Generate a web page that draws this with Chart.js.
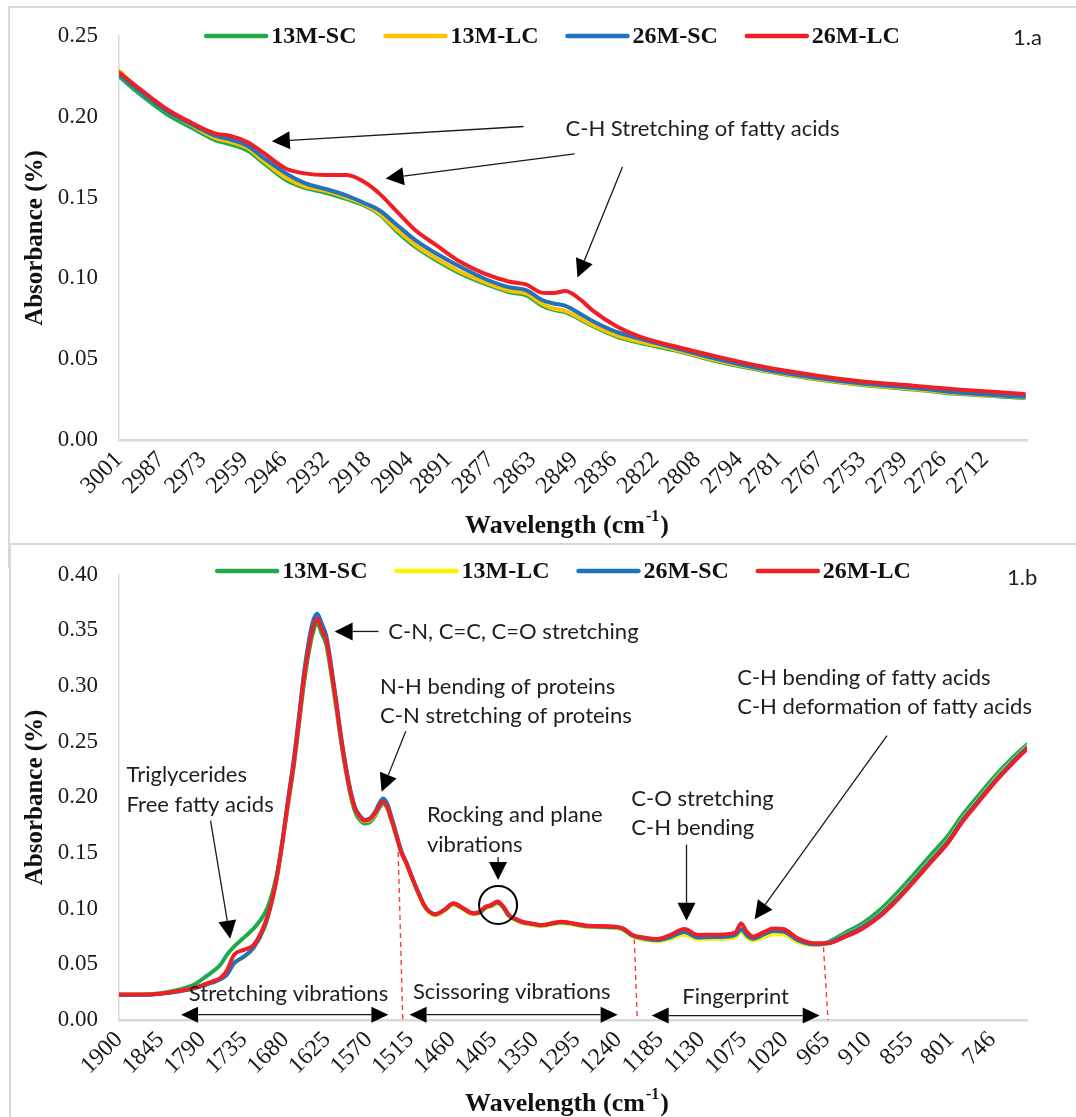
<!DOCTYPE html>
<html>
<head>
<meta charset="utf-8">
<title>FTIR absorbance spectra</title>
<script src="https://cdn.jsdelivr.net/npm/chart.js@4.4.1/dist/chart.umd.min.js"></script>
<style>
  html, body { margin: 0; padding: 0; background: #fff; }
  body { width: 1076px; height: 1117px; position: relative; overflow: hidden; }
  .frame { position: absolute; border-top: 2px solid #d9d9d9; border-left: 2px solid #d9d9d9; }
  #frame-a { left: 8px; top: 6px; width: 1100px; height: 560px; }
  #frame-b { left: 9px; top: 543px; width: 1100px; height: 600px; }
  canvas { position: absolute; left: 0; }
  #chart-a { top: 0; }
  #chart-b { top: 540px; }
</style>
</head>
<body>
<div class="frame" id="frame-a"></div>
<div class="frame" id="frame-b"></div>
<canvas id="chart-a" width="1076" height="538"></canvas>
<canvas id="chart-b" width="1076" height="577"></canvas>
<script>
var SERIES = ['13M-SC', '13M-LC', '26M-SC', '26M-LC'];

// ---- panel 1.a : C-H stretching region ----
var topWavenumber = [3001, 2994, 2985, 2977, 2969, 2964, 2958, 2953, 2945, 2939, 2932, 2925, 2919, 2914, 2908, 2902, 2895, 2887, 2879, 2871, 2865, 2860, 2856, 2852, 2847, 2843, 2835, 2827, 2816, 2802, 2786, 2769, 2753, 2736, 2720, 2699];
var top13MSC = [0.2250, 0.2140, 0.2016, 0.1934, 0.1856, 0.1830, 0.1790, 0.1718, 0.1605, 0.1560, 0.1530, 0.1490, 0.1450, 0.1395, 0.1286, 0.1193, 0.1111, 0.1029, 0.0967, 0.0916, 0.0895, 0.0833, 0.0805, 0.0790, 0.0745, 0.0705, 0.0640, 0.0600, 0.0556, 0.0488, 0.0428, 0.0377, 0.0340, 0.0313, 0.0284, 0.0261];
var top13MLC = [0.2285, 0.2165, 0.2040, 0.1950, 0.1870, 0.1845, 0.1805, 0.1730, 0.1620, 0.1570, 0.1542, 0.1500, 0.1457, 0.1400, 0.1298, 0.1205, 0.1122, 0.1040, 0.0977, 0.0925, 0.0905, 0.0845, 0.0812, 0.0798, 0.0752, 0.0712, 0.0647, 0.0607, 0.0562, 0.0494, 0.0432, 0.0381, 0.0344, 0.0316, 0.0288, 0.0264];
var top26MSC = [0.2265, 0.2160, 0.2037, 0.1955, 0.1883, 0.1860, 0.1820, 0.1749, 0.1646, 0.1590, 0.1553, 0.1512, 0.1465, 0.1420, 0.1327, 0.1235, 0.1152, 0.1070, 0.0998, 0.0946, 0.0926, 0.0868, 0.0845, 0.0830, 0.0780, 0.0737, 0.0669, 0.0626, 0.0572, 0.0504, 0.0438, 0.0387, 0.0350, 0.0323, 0.0292, 0.0267];
var top26MLC = [0.2274, 0.2171, 0.2047, 0.1965, 0.1897, 0.1883, 0.1842, 0.1780, 0.1677, 0.1650, 0.1640, 0.1640, 0.1595, 0.1523, 0.1409, 0.1296, 0.1204, 0.1101, 0.1029, 0.0981, 0.0961, 0.0912, 0.0909, 0.0922, 0.0868, 0.0802, 0.0704, 0.0638, 0.0582, 0.0519, 0.0453, 0.0401, 0.0362, 0.0336, 0.0311, 0.0285];
var topTicks = [3001, 2987, 2973, 2959, 2946, 2932, 2918, 2904, 2891, 2877, 2863, 2849, 2836, 2822, 2808, 2794, 2781, 2767, 2753, 2739, 2726, 2712];

// ---- panel 1.b : fingerprint region ----
var botWavenumber = [1900, 1855, 1820, 1800, 1788, 1777, 1766, 1757, 1748, 1735, 1722, 1708, 1700, 1692, 1684, 1676, 1669, 1662, 1656, 1650, 1644, 1638, 1632, 1626, 1620, 1613, 1607, 1600, 1594, 1588, 1581, 1575, 1568, 1562, 1556, 1551, 1545, 1540, 1534, 1527, 1520, 1514, 1505, 1497, 1490, 1482, 1470, 1458, 1445, 1432, 1424, 1415, 1408, 1400, 1392, 1385, 1376, 1368, 1350, 1343, 1316, 1280, 1243, 1234, 1221, 1205, 1189, 1171, 1153, 1135, 1117, 1099, 1085, 1078, 1070, 1062, 1048, 1035, 1022, 1003, 981, 963, 940, 917, 895, 872, 850, 827, 804, 786, 765, 740, 720, 700];
var bot13MSC = [0.0228, 0.0234, 0.0275, 0.0320, 0.0377, 0.0430, 0.0496, 0.0590, 0.0660, 0.0740, 0.0823, 0.0950, 0.1080, 0.1290, 0.1600, 0.1960, 0.2280, 0.2660, 0.3000, 0.3270, 0.3470, 0.3565, 0.3470, 0.3370, 0.3130, 0.2810, 0.2520, 0.2230, 0.2020, 0.1870, 0.1790, 0.1765, 0.1780, 0.1830, 0.1905, 0.1945, 0.1895, 0.1795, 0.1665, 0.1505, 0.1400, 0.1296, 0.1148, 0.1030, 0.0970, 0.0945, 0.0985, 0.1042, 0.0998, 0.0955, 0.0962, 0.1010, 0.1022, 0.1050, 0.1008, 0.0938, 0.0902, 0.0878, 0.0856, 0.0846, 0.0874, 0.0838, 0.0828, 0.0812, 0.0752, 0.0725, 0.0712, 0.0735, 0.0770, 0.0730, 0.0732, 0.0735, 0.0750, 0.0800, 0.0745, 0.0718, 0.0748, 0.0775, 0.0772, 0.0705, 0.0675, 0.0700, 0.0785, 0.0870, 0.0985, 0.1140, 0.1305, 0.1485, 0.1660, 0.1835, 0.2010, 0.2210, 0.2350, 0.2475];
var bot13MLC = [0.0226, 0.0231, 0.0260, 0.0287, 0.0312, 0.0338, 0.0368, 0.0415, 0.0505, 0.0565, 0.0645, 0.0825, 0.1005, 0.1255, 0.1600, 0.1995, 0.2325, 0.2720, 0.3070, 0.3345, 0.3550, 0.3625, 0.3535, 0.3430, 0.3185, 0.2855, 0.2560, 0.2260, 0.2050, 0.1900, 0.1815, 0.1785, 0.1800, 0.1845, 0.1925, 0.1965, 0.1915, 0.1810, 0.1675, 0.1510, 0.1402, 0.1297, 0.1148, 0.1028, 0.0966, 0.0940, 0.0980, 0.1036, 0.0992, 0.0950, 0.0958, 0.1005, 0.1018, 0.1046, 0.1004, 0.0935, 0.0898, 0.0874, 0.0852, 0.0843, 0.0870, 0.0835, 0.0826, 0.0808, 0.0748, 0.0722, 0.0708, 0.0732, 0.0768, 0.0726, 0.0728, 0.0732, 0.0745, 0.0795, 0.0742, 0.0715, 0.0745, 0.0770, 0.0768, 0.0702, 0.0674, 0.0690, 0.0765, 0.0842, 0.0948, 0.1098, 0.1262, 0.1440, 0.1618, 0.1798, 0.1972, 0.2178, 0.2322, 0.2458];
var bot26MSC = [0.0225, 0.0230, 0.0258, 0.0285, 0.0310, 0.0335, 0.0365, 0.0410, 0.0510, 0.0570, 0.0650, 0.0830, 0.1010, 0.1260, 0.1610, 0.2010, 0.2340, 0.2740, 0.3090, 0.3370, 0.3575, 0.3650, 0.3560, 0.3450, 0.3200, 0.2870, 0.2570, 0.2270, 0.2060, 0.1910, 0.1830, 0.1800, 0.1815, 0.1865, 0.1945, 0.1990, 0.1935, 0.1825, 0.1685, 0.1520, 0.1412, 0.1306, 0.1156, 0.1036, 0.0974, 0.0948, 0.0988, 0.1045, 0.1000, 0.0957, 0.0965, 0.1014, 0.1028, 0.1056, 0.1012, 0.0940, 0.0905, 0.0880, 0.0858, 0.0849, 0.0878, 0.0842, 0.0833, 0.0817, 0.0757, 0.0730, 0.0718, 0.0745, 0.0790, 0.0742, 0.0745, 0.0748, 0.0765, 0.0815, 0.0760, 0.0730, 0.0770, 0.0800, 0.0795, 0.0718, 0.0680, 0.0692, 0.0762, 0.0838, 0.0942, 0.1090, 0.1255, 0.1433, 0.1610, 0.1790, 0.1965, 0.2170, 0.2315, 0.2450];
var bot26MLC = [0.0228, 0.0232, 0.0262, 0.0290, 0.0318, 0.0345, 0.0377, 0.0450, 0.0585, 0.0630, 0.0674, 0.0853, 0.1020, 0.1260, 0.1600, 0.1990, 0.2310, 0.2700, 0.3050, 0.3320, 0.3520, 0.3605, 0.3505, 0.3411, 0.3170, 0.2846, 0.2550, 0.2252, 0.2044, 0.1895, 0.1820, 0.1791, 0.1806, 0.1851, 0.1925, 0.1961, 0.1910, 0.1806, 0.1670, 0.1509, 0.1405, 0.1301, 0.1153, 0.1034, 0.0974, 0.0950, 0.0990, 0.1049, 0.1004, 0.0960, 0.0969, 0.1019, 0.1034, 0.1064, 0.1019, 0.0945, 0.0909, 0.0885, 0.0862, 0.0853, 0.0882, 0.0847, 0.0838, 0.0823, 0.0764, 0.0740, 0.0728, 0.0764, 0.0817, 0.0764, 0.0766, 0.0769, 0.0790, 0.0868, 0.0790, 0.0749, 0.0790, 0.0823, 0.0817, 0.0734, 0.0689, 0.0689, 0.0749, 0.0823, 0.0927, 0.1075, 0.1239, 0.1417, 0.1595, 0.1774, 0.1950, 0.2155, 0.2300, 0.2436];
var botTicks = [1900, 1845, 1790, 1735, 1680, 1625, 1570, 1515, 1460, 1405, 1350, 1295, 1240, 1185, 1130, 1075, 1020, 965, 910, 855, 801, 746];

var AREA_LEFT = 119;
var AREA_RIGHT = 1027;
var SERIF = '"Liberation Serif", "Times New Roman", serif';
var NOTE_FAMILY = 'Lato, "Open Sans", sans-serif';
var NOTE_GAP = 29.5;

// annotation layout, in (wavenumber, absorbance) coordinates
var topDecor = {
    legend: { cx: 553, y: 36 },
    tag: { text: '1.a', dx: -14, y: 38 },
    xTitle: { cx: 566, y: 526 },
    notes: [
        { at: [2852, 0.1925], lines: ['C-H Stretching of fatty acids'], align: 'left' }
    ],
    arrows: [
        [[2866, 0.1940], [2950, 0.1848]],
        [[2849, 0.1770], [2912, 0.1618]],
        [[2833, 0.1690], [2848, 0.1006]]
    ],
    spans: [], guides: [], circles: []
};

var botDecor = {
    legend: { cx: 564, y: 31 },
    tag: { text: '1.b', dx: -20, y: 38 },
    xTitle: { cx: 566, y: 564 },
    notes: [
        { at: [1544, 0.3485], lines: ['C-N, C=C, C=O stretching'], align: 'left' },
        { at: [1555, 0.2995], lines: ['N-H bending of proteins', 'C-N stretching of proteins'], align: 'left' },
        { at: [1890, 0.2201], lines: ['Triglycerides', 'Free fatty acids'], align: 'left' },
        { at: [1493, 0.1842], lines: ['Rocking and plane', 'vibrations'], align: 'left' },
        { at: [1223, 0.1990], lines: ['C-O stretching', 'C-H bending'], align: 'left' },
        { at: [1083, 0.3075], lines: ['C-H bending of fatty acids', 'C-H deformation of fatty acids'], align: 'left' },
        { at: [1676, 0.0232], lines: ['Stretching vibrations'], align: 'center' },
        { at: [1381, 0.0255], lines: ['Scissoring vibrations'], align: 'center' },
        { at: [1085, 0.0208], lines: ['Fingerprint'], align: 'center' }
    ],
    arrows: [
        [[1557, 0.3491], [1615, 0.3491]],
        [[1521, 0.2594], [1553, 0.2050]],
        [[1779, 0.1791], [1753, 0.0731]],
        [[1399, 0.1465], [1399, 0.1257]],
        [[1150, 0.1575], [1150, 0.0891]],
        [[885, 0.2555], [1060, 0.0906]]
    ],
    spans: [
        [[1818, 0.0048], [1544, 0.0048]],
        [[1516, 0.0048], [1241, 0.0048]],
        [[1196, 0.0040], [974, 0.0040]]
    ],
    guides: [
        [[1531, 0.1509], [1525, 0]],
        [[1219, 0.0728], [1215, 0]],
        [[969, 0.0654], [963, 0]]
    ],
    circles: [ { at: [1399, 0.1034], r: 19 } ]
};

function toPx(chart, p) {
    return { x: chart.scales.x.getPixelForValue(p[0]), y: chart.scales.y.getPixelForValue(p[1]) };
}

function arrowHead(ctx, from, to, len, half) {
    var a = Math.atan2(to.y - from.y, to.x - from.x);
    var bx = to.x - len * Math.cos(a), by = to.y - len * Math.sin(a);
    ctx.beginPath();
    ctx.moveTo(to.x, to.y);
    ctx.lineTo(bx + half * Math.sin(a), by - half * Math.cos(a));
    ctx.lineTo(bx - half * Math.sin(a), by + half * Math.cos(a));
    ctx.closePath();
    ctx.fill();
    return { x: bx, y: by };
}

var noteSize = null;
function getNoteSize(ctx) {
    if (noteSize) return noteSize;
    ctx.save();
    ctx.font = '20px ' + NOTE_FAMILY;
    var w = ctx.measureText('C-H Stretching of fatty acids').width;
    ctx.restore();
    noteSize = 20 * 274 / w;
    return noteSize;
}

function makeDecor(d, colors) {
    return {
        id: 'decor',
        beforeDatasetsDraw: function(chart) {
            var ctx = chart.ctx;
            ctx.save();
            ctx.strokeStyle = '#ff3b3b';
            ctx.lineWidth = 1.4;
            ctx.setLineDash([5, 4]);
            d.guides.forEach(function(g) {
                var a = toPx(chart, g[0]), b = toPx(chart, g[1]);
                ctx.beginPath(); ctx.moveTo(a.x, a.y); ctx.lineTo(b.x, b.y); ctx.stroke();
            });
            ctx.restore();
        },
        afterDatasetsDraw: function(chart) {
            var ctx = chart.ctx;
            var size = getNoteSize(ctx);
            ctx.save();

            // arrows
            ctx.fillStyle = '#000';
            ctx.strokeStyle = '#1a1a1a';
            ctx.lineWidth = 1.3;
            d.arrows.forEach(function(ar) {
                var a = toPx(chart, ar[0]), b = toPx(chart, ar[1]);
                var base = arrowHead(ctx, a, b, 18, 9);
                ctx.beginPath(); ctx.moveTo(a.x, a.y); ctx.lineTo(base.x, base.y); ctx.stroke();
            });
            // double arrows along the axis
            d.spans.forEach(function(sp) {
                var a = toPx(chart, sp[0]), b = toPx(chart, sp[1]);
                var b1 = arrowHead(ctx, a, b, 17, 8);
                var b2 = arrowHead(ctx, b, a, 17, 8);
                ctx.beginPath(); ctx.moveTo(b2.x, b2.y); ctx.lineTo(b1.x, b1.y); ctx.stroke();
            });
            // circles
            ctx.lineWidth = 2;
            ctx.strokeStyle = '#000';
            d.circles.forEach(function(c) {
                var p = toPx(chart, c.at);
                ctx.beginPath(); ctx.arc(p.x, p.y, c.r, 0, Math.PI * 2); ctx.stroke();
            });

            // notes
            ctx.fillStyle = '#1e1e1e';
            ctx.font = size.toFixed(2) + 'px ' + NOTE_FAMILY;
            ctx.textBaseline = 'middle';
            d.notes.forEach(function(n) {
                var p = toPx(chart, n.at);
                ctx.textAlign = n.align;
                n.lines.forEach(function(line, k) {
                    ctx.fillText(line, p.x, p.y + k * NOTE_GAP);
                });
            });

            // panel tag
            ctx.textAlign = 'left';
            ctx.fillText(d.tag.text, chart.chartArea.right + d.tag.dx, d.tag.y);

            // legend
            ctx.font = 'bold 24px ' + SERIF;
            ctx.fillStyle = '#111';
            var widths = SERIES.map(function(s) { return ctx.measureText(s).width; });
            var LINE = 60, GAP = 5, SEP = 29;
            var total = SEP * (SERIES.length - 1);
            widths.forEach(function(w) { total += LINE + GAP + w; });
            var x = d.legend.cx - total / 2;
            SERIES.forEach(function(s, i) {
                ctx.strokeStyle = colors[i];
                ctx.lineWidth = 4.5;
                ctx.lineCap = 'round';
                ctx.beginPath(); ctx.moveTo(x, d.legend.y); ctx.lineTo(x + LINE, d.legend.y); ctx.stroke();
                ctx.fillText(s, x + LINE + GAP, d.legend.y + 1);
                x += LINE + GAP + widths[i] + SEP;
            });

            // x axis title with superscript
            var main = 'Wavelength (cm', sup = '-1', tail = ')';
            ctx.font = 'bold 26px ' + SERIF;
            var w1 = ctx.measureText(main).width, w3 = ctx.measureText(tail).width;
            ctx.font = 'bold 16px ' + SERIF;
            var w2 = ctx.measureText(sup).width;
            var tx = d.xTitle.cx - (w1 + w2 + w3) / 2;
            ctx.fillStyle = '#111';
            ctx.font = 'bold 26px ' + SERIF;
            ctx.fillText(main, tx, d.xTitle.y);
            ctx.font = 'bold 16px ' + SERIF;
            ctx.fillText(sup, tx + w1 + 1, d.xTitle.y - 9);
            ctx.font = 'bold 26px ' + SERIF;
            ctx.fillText(tail, tx + w1 + w2 + 2, d.xTitle.y);

            ctx.restore();
        }
    };
}

function buildChart(canvasId, cfg) {
    var datasets = cfg.series.map(function(vals, i) {
        return {
            label: SERIES[i],
            data: cfg.wn.map(function(w, k) { return { x: w, y: vals[k] }; }),
            borderColor: cfg.colors[i],
            borderWidth: 4,
            borderCapStyle: 'round',
            borderJoinStyle: 'round',
            pointRadius: 0,
            cubicInterpolationMode: 'monotone',
            fill: false,
            order: cfg.series.length - 1 - i
        };
    });
    var canvas = document.getElementById(canvasId);
    return new Chart(canvas, {
        type: 'line',
        data: { datasets: datasets },
        options: {
            responsive: false,
            animation: false,
            events: [],
            layout: { padding: { left: 0, right: canvas.width - AREA_RIGHT, top: cfg.areaTop, bottom: 0 } },
            plugins: { legend: { display: false }, tooltip: { enabled: false } },
            scales: {
                x: {
                    type: 'linear',
                    reverse: true,
                    min: cfg.xMin,
                    max: cfg.xMax,
                    afterBuildTicks: function(axis) {
                        axis.ticks = cfg.ticks.map(function(v) { return { value: v }; });
                    },
                    afterFit: function(s) { s.height = cfg.axisH; },
                    grid: { display: false, drawTicks: false },
                    border: { display: true, color: '#d9d9d9', width: 2.5 },
                    ticks: {
                        autoSkip: false,
                        minRotation: 45,
                        maxRotation: 45,
                        padding: 6,
                        color: '#1a1a1a',
                        font: { family: SERIF, size: 24 },
                        callback: function(v) { return String(v); }
                    }
                },
                y: {
                    min: 0,
                    max: cfg.yMax,
                    afterFit: function(s) { s.width = AREA_LEFT; },
                    grid: { display: false, drawTicks: false },
                    border: { display: true, color: '#d9d9d9', width: 1.5 },
                    ticks: {
                        stepSize: 0.05,
                        padding: 21,
                        color: '#1a1a1a',
                        font: { family: SERIF, size: 23 },
                        callback: function(v) { return Number(v).toFixed(2); }
                    },
                    title: {
                        display: true,
                        text: 'Absorbance (%)',
                        color: '#111',
                        font: { family: SERIF, size: 25, weight: 'bold', lineHeight: 1 },
                        padding: { top: 23, bottom: 0 }
                    }
                }
            }
        },
        plugins: [makeDecor(cfg.decor, cfg.colors)]
    });
}

var topColors = ['#1faa4b', '#ffc000', '#1f74bd', '#ee1f26'];
var botColors = ['#1faa4b', '#fff200', '#1f74bd', '#ee1f26'];

buildChart('chart-a', {
    wn: topWavenumber,
    series: [top13MSC, top13MLC, top26MSC, top26MLC],
    colors: topColors,
    ticks: topTicks,
    xMin: 2698, xMax: 3001,
    yMax: 0.25,
    areaTop: 36,
    axisH: 98,
    decor: topDecor
});

buildChart('chart-b', {
    wn: botWavenumber,
    series: [bot13MSC, bot13MLC, bot26MSC, bot26MLC],
    colors: botColors,
    ticks: botTicks,
    xMin: 700, xMax: 1900,
    yMax: 0.40,
    areaTop: 31,
    axisH: 97,
    decor: botDecor
});
</script>
</body>
</html>
